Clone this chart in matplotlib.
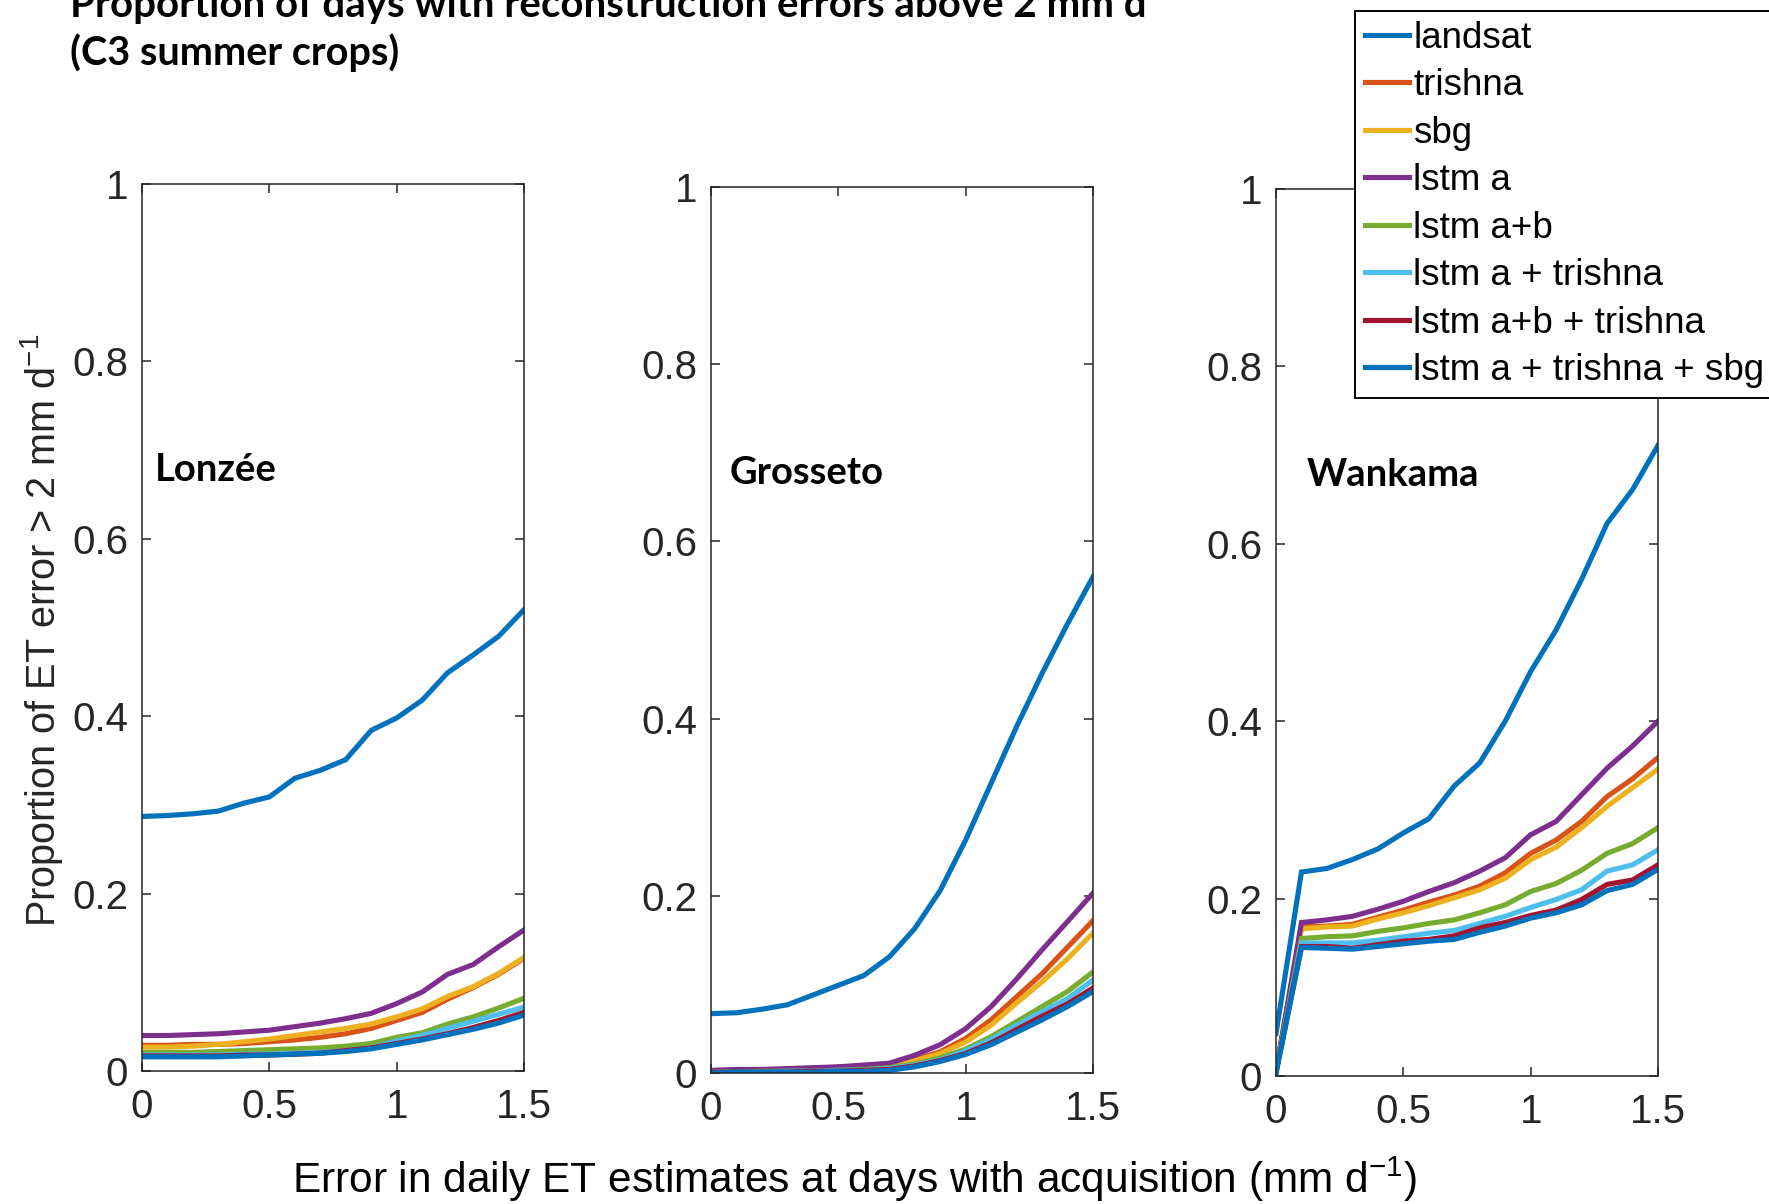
##==============================================================================
## Proportion of days with reconstruction errors above 2 mm/d for the
## C3 summer crop sites, one panel per site
##==============================================================================
import numpy as np
from matplotlib import pyplot as plt
##==============================================================================
plt.rcParams['font.family'] = ['Liberation Sans', 'DejaVu Sans']
plt.rcParams['mathtext.fontset'] = 'custom'
plt.rcParams['mathtext.rm'] = 'Liberation Sans'
plt.rcParams['mathtext.default'] = 'regular'

# error thresholds on days with acquisition (mm d-1)
err = [0.0, 0.1, 0.2, 0.3, 0.4, 0.5, 0.6, 0.7, 0.8, 0.9, 1.0, 1.1, 1.2, 1.3, 1.4, 1.5]

scenarios = ['landsat', 'trishna', 'sbg', 'lstm a', 'lstm a+b',
             'lstm a + trishna', 'lstm a+b + trishna', 'lstm a + trishna + sbg']
sites = ['Lonzée', 'Grosseto', 'Wankama']

lonzee_landsat = [0.287, 0.288, 0.290, 0.293, 0.302, 0.309, 0.330, 0.339, 0.351, 0.384, 0.398, 0.418, 0.449, 0.469, 0.490, 0.520]
lonzee_trishna = [0.029, 0.029, 0.030, 0.030, 0.031, 0.033, 0.035, 0.038, 0.042, 0.048, 0.057, 0.066, 0.081, 0.094, 0.109, 0.127]
lonzee_sbg = [0.027, 0.027, 0.028, 0.030, 0.033, 0.036, 0.040, 0.044, 0.048, 0.053, 0.061, 0.070, 0.084, 0.095, 0.110, 0.128]
lonzee_lstm_a = [0.040, 0.040, 0.041, 0.042, 0.044, 0.046, 0.050, 0.054, 0.059, 0.065, 0.076, 0.089, 0.109, 0.120, 0.140, 0.159]
lonzee_lstm_ab = [0.021, 0.021, 0.021, 0.022, 0.023, 0.024, 0.025, 0.026, 0.028, 0.031, 0.038, 0.043, 0.053, 0.061, 0.071, 0.082]
lonzee_lstm_a_tr = [0.018, 0.018, 0.018, 0.018, 0.019, 0.019, 0.020, 0.021, 0.023, 0.026, 0.034, 0.040, 0.048, 0.056, 0.064, 0.072]
lonzee_lstm_ab_tr = [0.017, 0.017, 0.017, 0.017, 0.018, 0.018, 0.019, 0.020, 0.023, 0.026, 0.031, 0.036, 0.042, 0.049, 0.057, 0.066]
lonzee_lstm_a_tr_sbg = [0.016, 0.016, 0.016, 0.016, 0.017, 0.018, 0.019, 0.020, 0.022, 0.025, 0.030, 0.035, 0.041, 0.047, 0.054, 0.063]

grosseto_landsat = [0.067, 0.068, 0.072, 0.077, 0.088, 0.099, 0.110, 0.131, 0.163, 0.206, 0.263, 0.327, 0.391, 0.451, 0.507, 0.560]
grosseto_trishna = [0.002, 0.002, 0.003, 0.003, 0.004, 0.005, 0.006, 0.008, 0.015, 0.024, 0.039, 0.060, 0.086, 0.112, 0.142, 0.172]
grosseto_sbg = [0.002, 0.002, 0.003, 0.003, 0.004, 0.005, 0.006, 0.008, 0.014, 0.022, 0.035, 0.054, 0.079, 0.103, 0.129, 0.158]
grosseto_lstm_a = [0.003, 0.004, 0.004, 0.005, 0.006, 0.007, 0.009, 0.011, 0.020, 0.032, 0.050, 0.075, 0.106, 0.139, 0.171, 0.203]
grosseto_lstm_ab = [0.001, 0.001, 0.002, 0.002, 0.002, 0.003, 0.004, 0.006, 0.010, 0.017, 0.027, 0.041, 0.058, 0.075, 0.092, 0.114]
grosseto_lstm_a_tr = [0.001, 0.001, 0.001, 0.002, 0.002, 0.003, 0.003, 0.005, 0.009, 0.015, 0.025, 0.038, 0.054, 0.069, 0.084, 0.105]
grosseto_lstm_ab_tr = [0.001, 0.001, 0.001, 0.001, 0.002, 0.002, 0.003, 0.004, 0.008, 0.014, 0.022, 0.034, 0.049, 0.064, 0.078, 0.096]
grosseto_lstm_a_tr_sbg = [0.000, 0.001, 0.001, 0.001, 0.001, 0.002, 0.002, 0.003, 0.007, 0.013, 0.021, 0.032, 0.046, 0.060, 0.075, 0.092]

wankama_landsat = [0.048, 0.230, 0.234, 0.244, 0.256, 0.274, 0.290, 0.327, 0.353, 0.400, 0.456, 0.503, 0.560, 0.623, 0.661, 0.711]
wankama_trishna = [0.005, 0.168, 0.169, 0.171, 0.179, 0.187, 0.196, 0.204, 0.214, 0.229, 0.251, 0.266, 0.287, 0.315, 0.335, 0.359]
wankama_sbg = [0.005, 0.166, 0.168, 0.169, 0.177, 0.184, 0.192, 0.201, 0.210, 0.223, 0.244, 0.258, 0.280, 0.304, 0.325, 0.346]
wankama_lstm_a = [0.005, 0.173, 0.176, 0.180, 0.188, 0.197, 0.208, 0.218, 0.231, 0.246, 0.272, 0.287, 0.317, 0.347, 0.372, 0.400]
wankama_lstm_ab = [0.005, 0.155, 0.157, 0.158, 0.163, 0.167, 0.172, 0.176, 0.184, 0.193, 0.208, 0.217, 0.232, 0.251, 0.262, 0.280]
wankama_lstm_a_tr = [0.005, 0.150, 0.150, 0.150, 0.153, 0.157, 0.161, 0.164, 0.172, 0.180, 0.190, 0.199, 0.210, 0.231, 0.238, 0.255]
wankama_lstm_ab_tr = [0.004, 0.146, 0.146, 0.144, 0.148, 0.152, 0.154, 0.158, 0.167, 0.173, 0.181, 0.187, 0.199, 0.216, 0.221, 0.238]
wankama_lstm_a_tr_sbg = [0.003, 0.145, 0.144, 0.143, 0.146, 0.149, 0.152, 0.154, 0.162, 0.169, 0.178, 0.184, 0.193, 0.209, 0.216, 0.233]

x_ticks = [0, 0.5, 1, 1.5]
x_ticklabels = ['0', '0.5', '1', '1.5']
y_ticks = [0, 0.2, 0.4, 0.6, 0.8, 1]
y_ticklabels = ['0', '0.2', '0.4', '0.6', '0.8', '1']

# default MATLAB line order
colours = ['#0072BD', '#D95319', '#EDB120', '#7E2F8E', '#77AC30',
           '#4DBEEE', '#A2142F', '#0072BD']
axis_col = '#262626'
##==============================================================================
def site_series(site):
    if site == 'Lonzée':
        return [lonzee_landsat, lonzee_trishna, lonzee_sbg, lonzee_lstm_a,
                lonzee_lstm_ab, lonzee_lstm_a_tr, lonzee_lstm_ab_tr,
                lonzee_lstm_a_tr_sbg]
    if site == 'Grosseto':
        return [grosseto_landsat, grosseto_trishna, grosseto_sbg,
                grosseto_lstm_a, grosseto_lstm_ab, grosseto_lstm_a_tr,
                grosseto_lstm_ab_tr, grosseto_lstm_a_tr_sbg]
    return [wankama_landsat, wankama_trishna, wankama_sbg, wankama_lstm_a,
            wankama_lstm_ab, wankama_lstm_a_tr, wankama_lstm_ab_tr,
            wankama_lstm_a_tr_sbg]

def plot_site(ax, site, label_x):
    lines = []
    for series, col, name in zip(site_series(site), colours, scenarios):
        l, = ax.plot(err, series, color = col, lw = 3.7, label = name,
                     solid_joinstyle = 'miter')
        lines.append(l)
    ax.set_xlim(0, 1.5)
    ax.set_ylim(0, 1)
    ax.set_xticks(x_ticks)
    ax.set_xticklabels(x_ticklabels)
    ax.set_yticks(y_ticks)
    ax.set_yticklabels(y_ticklabels)
    ax.tick_params(direction = 'in', length = 6.5, width = 1.1,
                   top = True, right = True, labelsize = 29,
                   colors = axis_col)
    ax.tick_params(axis = 'x', pad = 12)
    ax.tick_params(axis = 'y', pad = 10)
    for sp in ax.spines.values():
        sp.set_linewidth(1.1)
        sp.set_color(axis_col)
    ax.text(label_x, 0.665, site, transform = ax.transAxes,
            family = ['Lato', 'DejaVu Sans'], weight = 'bold', fontsize = 27.5,
            va = 'baseline', ha = 'left')
    return lines

##==============================================================================
fig = plt.figure(figsize = (17.69, 12.04), dpi = 100)
W, H = 1769., 1204.

# axes boxes in pixels: left, bottom(from top), right, top(from top)
boxes = [(142, 1071, 524, 184), (711, 1073, 1093, 187), (1276, 1076, 1658, 189)]
label_x = [0.034, 0.050, 0.080]

all_lines = None
for site, (l, b, r, t), lx in zip(sites, boxes, label_x):
    ax = fig.add_axes([l / W, 1 - b / H, (r - l) / W, (b - t) / H])
    lines = plot_site(ax, site, lx)
    if all_lines is None:
        all_lines = lines

fig.text(42 / W, 1 - 630 / H, 'Proportion of ET error > 2 mm d$^{-1}$',
         rotation = 90, ha = 'center', va = 'center', fontsize = 28.5,
         color = axis_col)
fig.text(855 / W, 1 - 1179 / H,
         'Error in daily ET estimates at days with acquisition (mm d$^{-1}$)',
         ha = 'center', va = 'center', fontsize = 30.5, color = 'black')

# title sits partly above the top edge of the figure
fig.text(70 / W, 1 - 17 / H,
         'Proportion of days with reconstruction errors above 2 mm d\u207b\u00b9',
         family = ['Lato', 'DejaVu Sans'], weight = 'bold', fontsize = 29,
         ha = 'left', va = 'baseline')
fig.text(70 / W, 1 - 65 / H, '(C3 summer crops)',
         family = ['Lato', 'DejaVu Sans'], weight = 'bold', fontsize = 28.5,
         ha = 'left', va = 'baseline')

leg = fig.legend(all_lines, scenarios, loc = 'upper left',
                 bbox_to_anchor = (1355 / W, 1 - 11 / H), borderaxespad = 0,
                 fontsize = 26.5, frameon = True, fancybox = False,
                 framealpha = 1, edgecolor = 'black', handlelength = 1.22,
                 handletextpad = 0.1, labelspacing = 0.34, borderpad = 0.26)
leg.get_frame().set_linewidth(1.4)

plt.savefig('out.png', dpi = 100)
